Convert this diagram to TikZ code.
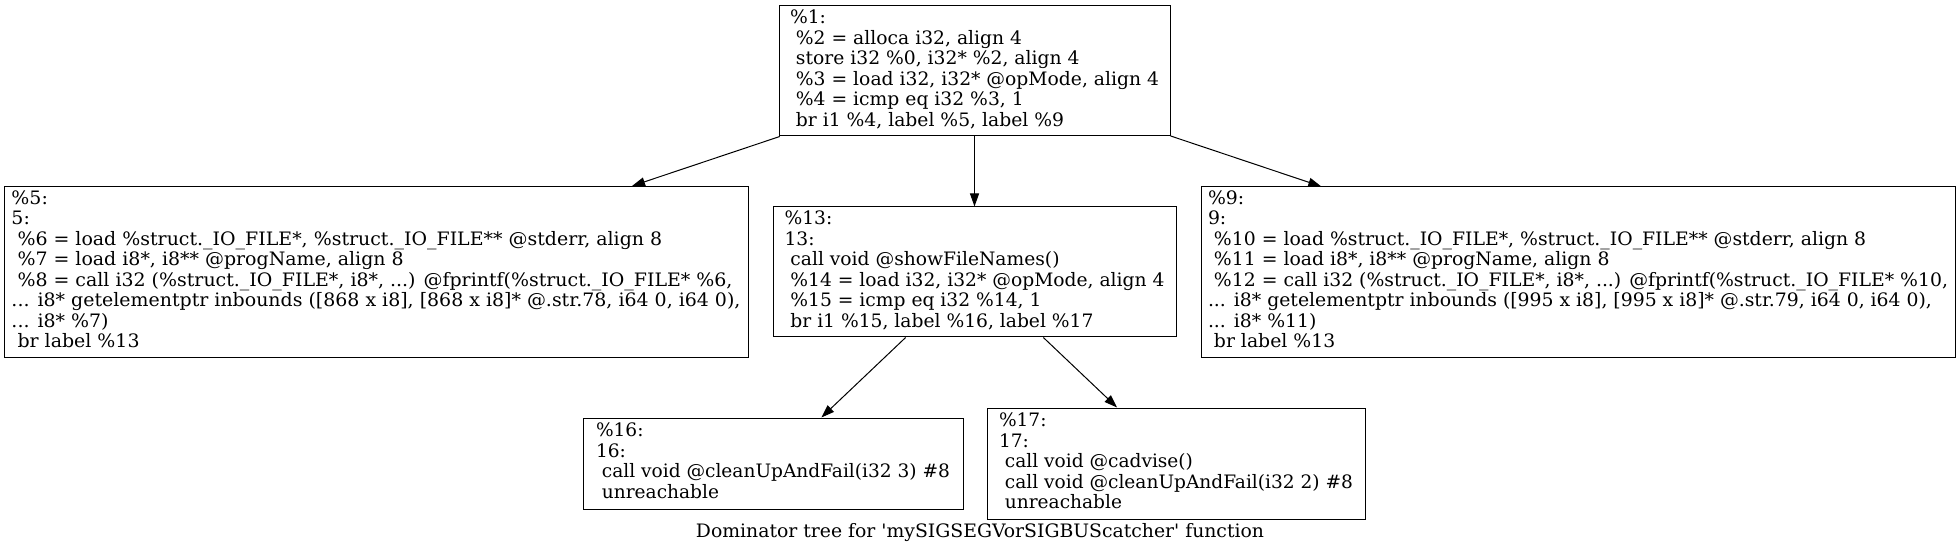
\documentclass[tikz,border=0pt]{standalone}
\usepackage{fontspec}
\usepackage{graphicx}
\setmainfont{DejaVu Serif}
\usetikzlibrary{arrows.meta, positioning}
\tikzstyle{block} = [rectangle, draw, line width=1pt, inner sep=0pt, ]
\tikzstyle{arrow} = [draw, line width=1pt, -{Triangle[length=13pt, width=9pt]}]
\newcommand{\irlines}[2]{\resizebox{#1}{\height}{\begin{tabular}{@{}l@{}}#2\end{tabular}}}

\begin{document}
\begin{tikzpicture}[
    x=1pt, y=-1pt,
    every node/.style={font=\fontsize{18.5}{20.5}\selectfont}
]
    \useasboundingbox (0,0) rectangle (1960,553);

    \node[block, minimum width=391pt, minimum height=130pt] (bb1) at (974.5,71) {\irlines{369pt}{%
        \%1:\\
        \ \%2 = alloca i32, align 4\\
        \ store i32 \%0, i32* \%2, align 4\\
        \ \%3 = load i32, i32* @opMode, align 4\\
        \ \%4 = icmp eq i32 \%3, 1\\
        \ br i1 \%4, label \%5, label \%9}};

    \node[block, minimum width=744pt, minimum height=171pt, below left = 49.5pt and 30pt of bb1] (bb5) {\irlines{729pt}{%
        \%5:\\
        5:\\
        \ \%6 = load \%struct.\_IO\_FILE*, \%struct.\_IO\_FILE** @stderr, align 8\\
        \ \%7 = load i8*, i8** @progName, align 8\\
        \ \%8 = call i32 (\%struct.\_IO\_FILE*, i8*, ...) @fprintf(\%struct.\_IO\_FILE* \%6,\\
        ... i8* getelementptr inbounds ({[}868 x i8], {[}868 x i8]* @.str.78, i64 0, i64 0),\\
        ... i8* \%7)\\
        \ br label \%13}};

    \node[block, minimum width=403pt, minimum height=130pt, below = 70pt of bb1] (bb13) {\irlines{380pt}{%
        \%13:\\
        13:\\
        \ call void @showFileNames()\\
        \ \%14 = load i32, i32* @opMode, align 4\\
        \ \%15 = icmp eq i32 \%14, 1\\
        \ br i1 \%15, label \%16, label \%17}};

    \node[block, minimum width=754pt, minimum height=170pt, below right = 50pt and 30pt of bb1] (bb9) {\irlines{740pt}{%
        \%9:\\
        9:\\
        \ \%10 = load \%struct.\_IO\_FILE*, \%struct.\_IO\_FILE** @stderr, align 8\\
        \ \%11 = load i8*, i8** @progName, align 8\\
        \ \%12 = call i32 (\%struct.\_IO\_FILE*, i8*, ...) @fprintf(\%struct.\_IO\_FILE* \%10,\\
        ... i8* getelementptr inbounds ({[}995 x i8], {[}995 x i8]* @.str.79, i64 0, i64 0),\\
        ... i8* \%11)\\
        \ br label \%13}};

    \node[block, minimum width=380pt, minimum height=91pt, below = 80pt of bb13, xshift=-201.5pt] (bb16) {\irlines{354pt}{%
        \%16:\\
        16:\\
        \ call void @cleanUpAndFail(i32 3) \#8\\
        \ unreachable}};

    \node[block, minimum width=378pt, minimum height=111pt, below = 70pt of bb13, xshift=201.5pt] (bb17) {\irlines{354pt}{%
        \%17:\\
        17:\\
        \ call void @cadvise()\\
        \ call void @cleanUpAndFail(i32 2) \#8\\
        \ unreachable}};

    % graph label
    \node (caption) at (980,533) {\resizebox{568pt}{\height}{Dominator tree for \textquotesingle mySIGSEGVorSIGBUScatcher\textquotesingle\ function}};

    \path[arrow] (bb1) -- (bb5);
    \path[arrow] (bb1) -- (bb13);
    \path[arrow] (bb1) -- (bb9);

    \path[arrow] (bb13) -- (bb16);
    \path[arrow] (bb13) -- (bb17);
\end{tikzpicture}
\end{document}
